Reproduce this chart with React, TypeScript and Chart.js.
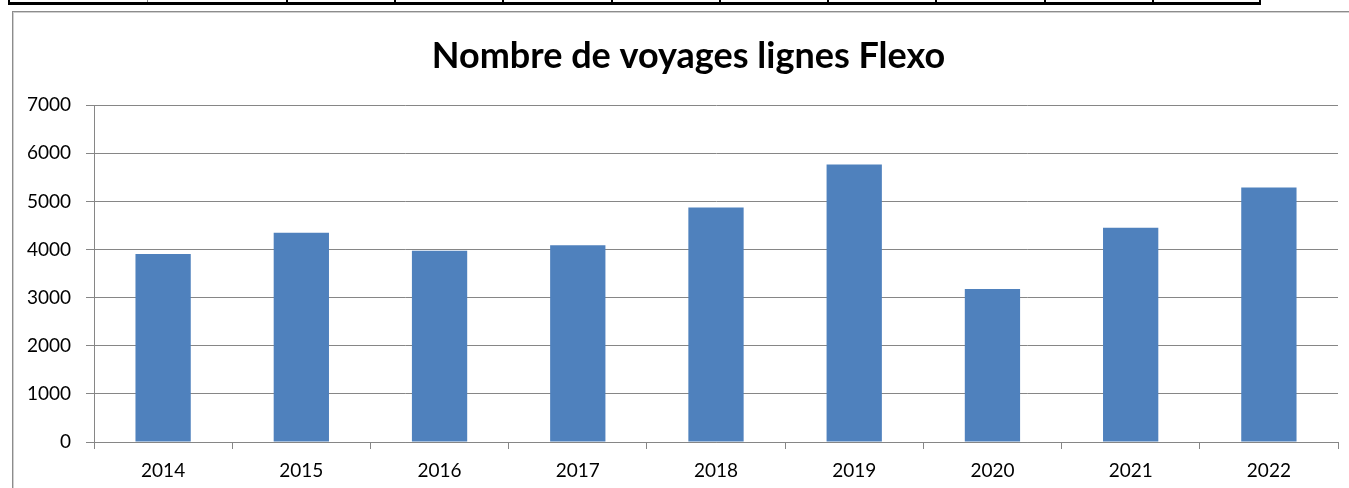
import React, { useEffect, useRef } from 'react';
import { Chart, registerables } from 'chart.js';

Chart.register(...registerables);

const categories = ['2014', '2015', '2016', '2017', '2018', '2019', '2020', '2021', '2022'];
const voyages = [3905, 4349, 3977, 4089, 4874, 5769, 3182, 4455, 5290];
const yMin = 0;
const yMax = 7000;
const yStep = 1000;
const chartTitle = 'Nombre de voyages lignes Flexo';

const GRID = 'rgb(134,134,134)';
const BAR = '#4f81bd';
const FONT = 'Lato, "Open Sans", sans-serif';

const tableDividers = [286, 394, 502, 611, 719, 827, 935, 1044, 1152];

const titleShift = {
  id: 'titleShift',
  afterLayout(chart: any) {
    if (chart.titleBlock) {
      chart.titleBlock.left += 26;
    }
  },
};

export default function App() {
  const ref = useRef<HTMLCanvasElement | null>(null);

  useEffect(() => {
    if (!ref.current) return;
    const chart = new Chart(ref.current, {
      type: 'bar',
      data: {
        labels: categories,
        datasets: [
          {
            label: 'Voyages',
            data: voyages,
            backgroundColor: BAR,
            borderWidth: 0,
            barPercentage: 0.4,
            categoryPercentage: 1.0,
          },
        ],
      },
      options: {
        responsive: false,
        animation: false,
        devicePixelRatio: 1,
        layout: { padding: { top: 0, right: 11, bottom: 0, left: 0 } },
        plugins: {
          legend: { display: false },
          tooltip: { enabled: false },
          title: {
            display: true,
            text: chartTitle,
            color: '#000',
            font: { family: FONT, size: 36, weight: 'bold', lineHeight: 1.2 },
            padding: { top: 23, bottom: 27 },
          },
        },
        scales: {
          x: {
            grid: {
              offset: true,
              drawOnChartArea: false,
              drawTicks: true,
              tickLength: 7,
              color: GRID,
              lineWidth: 1,
            },
            border: { color: GRID, width: 1 },
            ticks: { color: '#000', font: { family: FONT, size: 19 }, padding: 10, maxRotation: 0 },
            afterFit: (s: any) => {
              s.height = 46;
            },
          },
          y: {
            min: yMin,
            max: yMax,
            grid: { color: GRID, lineWidth: 1, tickLength: 8 },
            border: { color: GRID, width: 1 },
            ticks: {
              stepSize: yStep,
              color: '#000',
              font: { family: FONT, size: 19 },
              padding: 15,
              callback: (v: any) => String(v),
            },
            afterFit: (s: any) => {
              s.width = 81;
            },
          },
        },
      },
      plugins: [titleShift],
    });
    return () => chart.destroy();
  }, []);

  return (
    <div
      style={{
        position: 'absolute',
        left: 0,
        top: 0,
        width: 1349,
        height: 488,
        overflow: 'hidden',
        background: '#fff',
      }}
    >
      {/* top table strip */}
      <div style={{ position: 'absolute', left: 8, top: 2, width: 1253, height: 3, background: '#000' }} />
      <div style={{ position: 'absolute', left: 8, top: 0, width: 2, height: 5, background: '#000' }} />
      <div style={{ position: 'absolute', left: 1259, top: 0, width: 2, height: 5, background: '#000' }} />
      <div style={{ position: 'absolute', left: 147, top: 0, width: 1, height: 2, background: '#888' }} />
      {tableDividers.map((x) => (
        <div key={x} style={{ position: 'absolute', left: x, top: 0, width: 2, height: 2, background: '#000' }} />
      ))}
      {/* chart frame */}
      <div
        style={{
          position: 'absolute',
          left: 12,
          top: 11,
          width: 1400,
          height: 600,
          borderLeft: '1px solid #8c8c8c',
          borderTop: '1px solid #8c8c8c',
          boxShadow: 'inset 1px 1px 0 #d0d0d0',
        }}
      />
      <canvas
        ref={ref}
        width={1336}
        height={476}
        style={{ position: 'absolute', left: 13, top: 12, width: 1336, height: 476 }}
      />
    </div>
  );
}
